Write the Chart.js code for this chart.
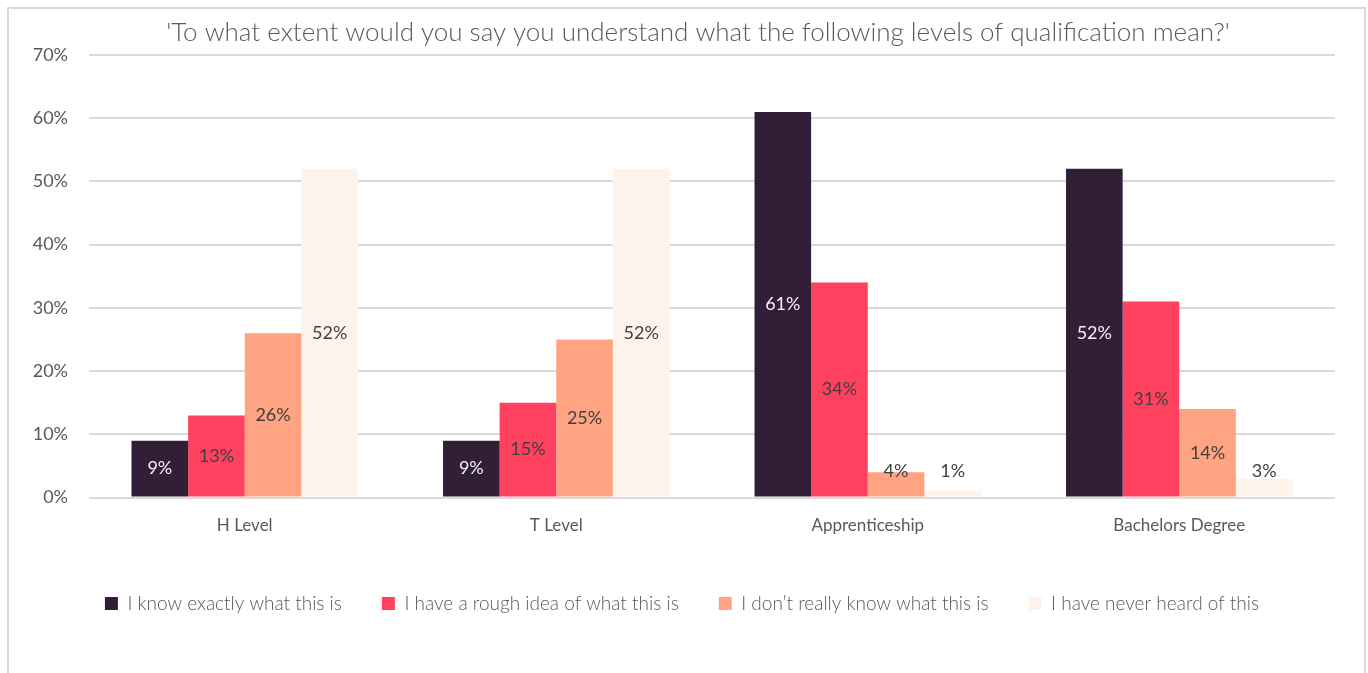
<!DOCTYPE html>
<html>
<head>
<meta charset="utf-8">
<script src="https://cdn.jsdelivr.net/npm/chart.js@4.4.1/dist/chart.umd.min.js"></script>
<style>
    html, body { margin: 0; padding: 0; background: #ffffff; }
    #frame {
        position: absolute; left: 7px; top: 7px; width: 1359px; height: 700px;
        border: 2px solid #d9d9d9; box-sizing: border-box;
    }
    #wrap { position: absolute; left: 0; top: 0; width: 1368px; height: 673px; }
</style>
</head>
<body>
<div id="frame"></div>
<div id="wrap"><canvas id="qualChart"></canvas></div>
<script>
// Dados do gráfico
const chartTitle = "'To what extent would you say you understand what the following levels of qualification mean?'";
const categories = ['H Level', 'T Level', 'Apprenticeship', 'Bachelors Degree'];
const seriesNames = [
    'I know exactly what this is',
    'I have a rough idea of what this is',
    'I don\u2019t really know what this is',
    'I have never heard of this'
];
const knowExactly = [9, 9, 61, 52];
const roughIdea = [13, 15, 34, 31];
const dontReallyKnow = [26, 25, 4, 14];
const neverHeard = [52, 52, 1, 3];
const yTicks = [0, 10, 20, 30, 40, 50, 60, 70];

const seriesValues = [knowExactly, roughIdea, dontReallyKnow, neverHeard];
const seriesColors = ['#331e38', '#ff415f', '#ffa383', '#fef3ea'];
const labelColors = ['#f2f2f2', '#404040', '#404040', '#404040'];

const fontFamily = 'Lato, "Open Sans", sans-serif';
const textGrey = '#595959';

// Título desenhado à mão (o original não fica centrado na área do gráfico)
const titlePlugin = {
    id: 'customTitle',
    afterDraw(chart) {
        const ctx = chart.ctx;
        const area = chart.chartArea;
        ctx.save();
        ctx.font = '300 26px ' + fontFamily;
        ctx.fillStyle = textGrey;
        ctx.textAlign = 'center';
        ctx.textBaseline = 'middle';
        ctx.fillText(chartTitle, (area.left + area.right) / 2 - 14, area.top - 22);
        ctx.restore();
    }
};

// Rótulos de valor no centro da barra (barras pequenas ficam um pouco acima)
const valueLabels = {
    id: 'valueLabels',
    afterDatasetsDraw(chart) {
        const ctx = chart.ctx;
        const yScale = chart.scales.y;
        const floorY = yScale.getPixelForValue(4.1);
        ctx.save();
        ctx.font = '400 18px ' + fontFamily;
        ctx.textAlign = 'center';
        ctx.textBaseline = 'middle';
        chart.data.datasets.forEach((ds, i) => {
            const meta = chart.getDatasetMeta(i);
            meta.data.forEach((bar, j) => {
                const y = Math.min((bar.y + bar.base) / 2, floorY);
                ctx.fillStyle = labelColors[i];
                ctx.fillText(ds.data[j] + '%', bar.x, y);
            });
        });
        ctx.restore();
    }
};

new Chart(document.getElementById('qualChart'), {
    type: 'bar',
    data: {
        labels: categories,
        datasets: seriesNames.map((name, i) => ({
            label: name,
            data: seriesValues[i],
            backgroundColor: seriesColors[i],
            borderWidth: 0,
            categoryPercentage: 0.727,
            barPercentage: 1.0
        }))
    },
    options: {
        responsive: true,
        maintainAspectRatio: false,
        animation: false,
        layout: { padding: { left: 29, right: 33, top: 55, bottom: 50 } },
        plugins: {
            title: { display: false },
            legend: {
                position: 'bottom',
                labels: {
                    color: textGrey,
                    font: { family: fontFamily, size: 19, weight: '300' },
                    boxWidth: 13,
                    boxHeight: 13,
                    padding: 40
                }
            },
            tooltip: { enabled: false }
        },
        scales: {
            x: {
                grid: { display: false },
                border: { display: false },
                afterFit: scale => { scale.height = scale.height + 8; },
                ticks: {
                    color: textGrey,
                    font: { family: fontFamily, size: 17, weight: '400' },
                    padding: 10
                }
            },
            y: {
                min: 0,
                max: 70,
                afterBuildTicks: scale => { scale.ticks = yTicks.map(v => ({ value: v })); },
                afterFit: scale => { scale.width = 60; },
                grid: { color: '#d9d9d9', lineWidth: 2, drawTicks: false },
                border: { display: false },
                ticks: {
                    color: textGrey,
                    font: { family: fontFamily, size: 18, weight: '400' },
                    padding: 21,
                    callback: v => v + '%'
                }
            }
        }
    },
    plugins: [valueLabels, titlePlugin]
});
</script>
</body>
</html>
